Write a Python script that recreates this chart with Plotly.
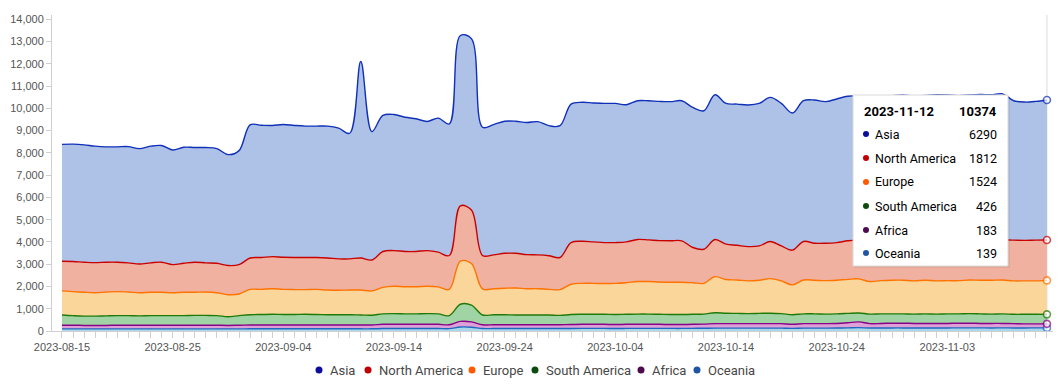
import pandas as pd
import plotly.graph_objects as go

# ---------------- data ----------------
dates = pd.date_range("2023-08-15", periods=90, freq="D")

asia = [5250, 5270, 5270, 5230, 5180, 5180, 5220, 5180, 5240, 5240,
        5150, 5210, 5150, 5180, 5150, 4980, 5120, 5980, 5940, 5890,
        5960, 5930, 5900, 5900, 5920, 5870, 5640, 8820, 5760, 6110,
        6110, 6030, 5960, 5800, 6020, 5910, 7650, 7700, 5760, 5850,
        5930, 5930, 5930, 5980, 5840, 5920, 6220, 6240, 6240, 6250,
        6250, 6160, 6230, 6250, 6250, 6250, 6290, 6290, 6220, 6500,
        6320, 6340, 6360, 6400, 6470, 6400, 6160, 6320, 6430, 6360,
        6450, 6490, 6490, 6510, 6440, 6480, 6500, 6480, 6490, 6510,
        6520, 6510, 6510, 6520, 6520, 6550, 6260, 6210, 6230, 6290]

north_america = [1330, 1350, 1350, 1350, 1340, 1320, 1310, 1290, 1320, 1350,
                 1260, 1300, 1350, 1310, 1320, 1310, 1320, 1410, 1430, 1440,
                 1440, 1440, 1440, 1430, 1440, 1410, 1400, 1440, 1390, 1610,
                 1600, 1580, 1580, 1600, 1560, 1520, 2480, 2400, 1500, 1520,
                 1570, 1560, 1530, 1520, 1510, 1440, 1870, 1890, 1860, 1840,
                 1830, 1830, 1890, 1870, 1860, 1860, 1860, 1580, 1530, 1670,
                 1590, 1560, 1540, 1540, 1670, 1570, 1560, 1730, 1660, 1680,
                 1690, 1730, 1740, 1820, 1800, 1800, 1820, 1820, 1810, 1850,
                 1820, 1800, 1800, 1820, 1810, 1810, 1830, 1820, 1830, 1812]

europe = [1080, 1080, 1070, 1050, 1070, 1080, 1060, 1040, 1050, 1050,
          1030, 1050, 1040, 1050, 1030, 990, 970, 1140, 1130, 1150,
          1130, 1120, 1110, 1130, 1110, 1100, 1110, 1120, 1090, 1190,
          1230, 1220, 1220, 1230, 1210, 1180, 1940, 1870, 1170, 1170,
          1190, 1210, 1180, 1180, 1150, 1160, 1360, 1390, 1390, 1380,
          1400, 1420, 1460, 1460, 1450, 1450, 1450, 1420, 1380, 1620,
          1510, 1500, 1470, 1490, 1550, 1470, 1340, 1520, 1510, 1500,
          1510, 1530, 1530, 1460, 1490, 1510, 1510, 1490, 1510, 1490,
          1490, 1490, 1510, 1510, 1520, 1520, 1500, 1500, 1500, 1524]

south_america = [460, 430, 420, 420, 430, 430, 430, 420, 430, 430,
                 430, 430, 440, 440, 430, 390, 430, 460, 470, 480,
                 470, 470, 480, 470, 460, 460, 460, 450, 440, 470,
                 480, 470, 470, 480, 470, 410, 770, 750, 440, 450,
                 450, 440, 440, 440, 440, 420, 450, 450, 450, 450,
                 450, 450, 460, 460, 450, 450, 450, 450, 450, 490,
                 470, 460, 450, 460, 470, 450, 430, 440, 440, 430,
                 430, 420, 400, 430, 430, 420, 420, 420, 430, 420,
                 430, 420, 430, 430, 420, 430, 420, 430, 430, 426]

africa = [165, 165, 156, 156, 155, 165, 164, 165, 165, 164,
          165, 165, 164, 164, 165, 156, 164, 172, 172, 171,
          172, 172, 171, 172, 172, 172, 172, 172, 172, 190,
          188, 190, 189, 188, 190, 175, 250, 240, 170, 168,
          168, 168, 168, 168, 168, 170, 175, 184, 184, 184,
          175, 184, 183, 183, 183, 174, 174, 180, 186, 200,
          202, 202, 203, 202, 200, 202, 180, 200, 200, 200,
          208, 230, 260, 195, 204, 212, 212, 204, 203, 203,
          202, 211, 210, 201, 202, 201, 192, 182, 181, 183]

oceania = [95, 95, 94, 94, 95, 95, 96, 95, 95, 96,
           95, 95, 96, 96, 95, 94, 96, 98, 98, 99,
           98, 98, 99, 98, 98, 98, 98, 98, 98, 110,
           112, 110, 111, 112, 110, 105, 180, 170, 110, 112,
           112, 112, 112, 112, 112, 110, 115, 116, 116, 116,
           115, 116, 117, 117, 117, 116, 116, 120, 124, 130,
           128, 128, 127, 128, 130, 128, 120, 130, 130, 130,
           132, 140, 150, 135, 136, 138, 138, 136, 137, 137,
           138, 139, 140, 139, 138, 139, 138, 138, 139, 139]

names = ["Asia", "North America", "Europe", "South America", "Africa", "Oceania"]
values = [asia, north_america, europe, south_america, africa, oceania]

# styles (same order as names)
line_colors = ["#1030b8", "#c80000", "#ff7300", "#1f7a0a", "#870087", "#1f68c0"]
fill_colors = ["rgb(174,194,232)", "rgb(240,177,160)", "rgb(250,214,154)",
               "rgb(161,212,165)", "rgb(222,160,215)", "rgb(170,215,234)"]
dot_colors = ["#0d0d9c", "#c00000", "#ff5a00", "#0d4a0d", "#4d0a4d", "#1f55a3"]

# ---------------- figure ----------------
fig = go.Figure()
n = len(dates)
for name, vals, lc, fc in reversed(list(zip(names, values, line_colors, fill_colors))):
    fig.add_trace(go.Scatter(
        x=dates, y=vals, name=name, stackgroup="one",
        mode="lines+markers",
        line=dict(color=lc, width=1.4, shape="spline", smoothing=1),
        fillcolor=fc,
        marker=dict(size=[0] * (n - 1) + [7], color="white",
                    line=dict(color=lc, width=[0] * (n - 1) + [1.6])),
        showlegend=False, hoverinfo="skip",
    ))

# page layout (pixels in the browser window); the page body has an 8px margin
PAGE_W, PAGE_H, OFF = 1061, 385, 8
L, R, T, B = 52, 1061, 15, 331


def px(x):
    return (x - L) / (R - L)


def py(y):
    return (B - y) / (B - T)


day = pd.Timedelta(days=1)
x_start = dates[0] - 0.9 * day
x_end = dates[-1] + 1.27 * day

shapes = []
annotations = []

# hover crosshair line at last date
shapes.append(dict(type="line", xref="x", yref="paper", x0=dates[-1], x1=dates[-1],
                   y0=0, y1=1, line=dict(color="#dcdcdc", width=1), layer="below"))

# ----- legend (text + dots) -----
legend_dots_x = [319, 368, 472, 535, 641, 697]
legend_text_x = [328, 377, 481, 544, 650, 706]
leg_y = 370
for name, dc, dx, tx in zip(names, dot_colors, legend_dots_x, legend_text_x):
    shapes.append(dict(type="circle", xref="paper", yref="paper",
                       xsizemode="pixel", ysizemode="pixel",
                       xanchor=px(dx), yanchor=py(leg_y),
                       x0=-3.5, x1=3.5, y0=-3.5, y1=3.5,
                       fillcolor=dc, line=dict(width=0)))
    annotations.append(dict(text=name, xref="paper", yref="paper",
                            x=px(tx), y=py(leg_y), xanchor="left", yanchor="middle",
                            showarrow=False,
                            font=dict(family="Roboto", size=13, color="#474747")))

# ----- tooltip box -----
bx0, bx1, by0, by1 = 853, 1008, 95, 266
shapes.append(dict(type="rect", xref="paper", yref="paper",
                   x0=px(bx0 + 1), x1=px(bx1 + 2), y0=py(by1 + 2), y1=py(by0 + 1),
                   fillcolor="rgba(0,0,0,0.06)", line=dict(width=0)))
shapes.append(dict(type="rect", xref="paper", yref="paper",
                   x0=px(bx0), x1=px(bx1), y0=py(by1), y1=py(by0),
                   fillcolor="white", line=dict(color="#d9d9d9", width=1)))

last_total = sum(v[-1] for v in values)
annotations.append(dict(text="<b>" + dates[-1].strftime("%Y-%m-%d") + "</b>",
                        xref="paper", yref="paper", x=px(862), y=py(112),
                        xanchor="left", yanchor="middle", showarrow=False,
                        font=dict(family="Roboto", size=13, color="black")))
annotations.append(dict(text="<b>%d</b>" % last_total,
                        xref="paper", yref="paper", x=px(999), y=py(112),
                        xanchor="right", yanchor="middle", showarrow=False,
                        font=dict(family="Roboto", size=13, color="black")))
row_y = [134, 158, 182, 206, 230, 253]
for name, vals, dc, ry in zip(names, values, dot_colors, row_y):
    shapes.append(dict(type="circle", xref="paper", yref="paper",
                       xsizemode="pixel", ysizemode="pixel",
                       xanchor=px(866), yanchor=py(ry),
                       x0=-3, x1=3, y0=-3, y1=3,
                       fillcolor=dc, line=dict(width=0)))
    annotations.append(dict(text=name, xref="paper", yref="paper",
                            x=px(873), y=py(ry), xanchor="left", yanchor="middle",
                            showarrow=False,
                            font=dict(family="Roboto", size=12.5, color="black")))
    annotations.append(dict(text=str(vals[-1]), xref="paper", yref="paper",
                            x=px(999), y=py(ry), xanchor="right", yanchor="middle",
                            showarrow=False,
                            font=dict(family="Roboto", size=12.5, color="black")))

fig.update_layout(
    width=PAGE_W - OFF, height=PAGE_H - OFF,
    margin=dict(l=L - OFF, r=PAGE_W - R, t=T - OFF, b=PAGE_H - B, pad=0),
    paper_bgcolor="white", plot_bgcolor="white",
    showlegend=False,
    shapes=shapes, annotations=annotations,
    font=dict(family="Liberation Sans", size=11, color="#555555"),
)
fig.update_xaxes(
    type="date", range=[x_start, x_end],
    tick0=dates[0], dtick=10 * 86400000, tickformat="%Y-%m-%d",
    ticks="outside", ticklen=6, tickcolor="#d0d0d0",
    minor=dict(dtick=86400000, tick0=dates[0], ticks="outside", ticklen=6,
               tickcolor="#d0d0d0", showgrid=False),
    showline=True, linecolor="#d0d0d0", linewidth=1,
    showgrid=False, zeroline=False,
    tickfont=dict(family="Liberation Sans", size=11, color="#555555"),
)
fig.update_yaxes(
    range=[0, 14190], dtick=1000, tick0=0, tickformat=",d",
    ticks="outside", ticklen=5, tickcolor="#d0d0d0",
    showline=True, linecolor="#d0d0d0", linewidth=1,
    showgrid=False, zeroline=False,
    tickfont=dict(family="Liberation Sans", size=11, color="#555555"),
)

fig.write_html("out.html")
